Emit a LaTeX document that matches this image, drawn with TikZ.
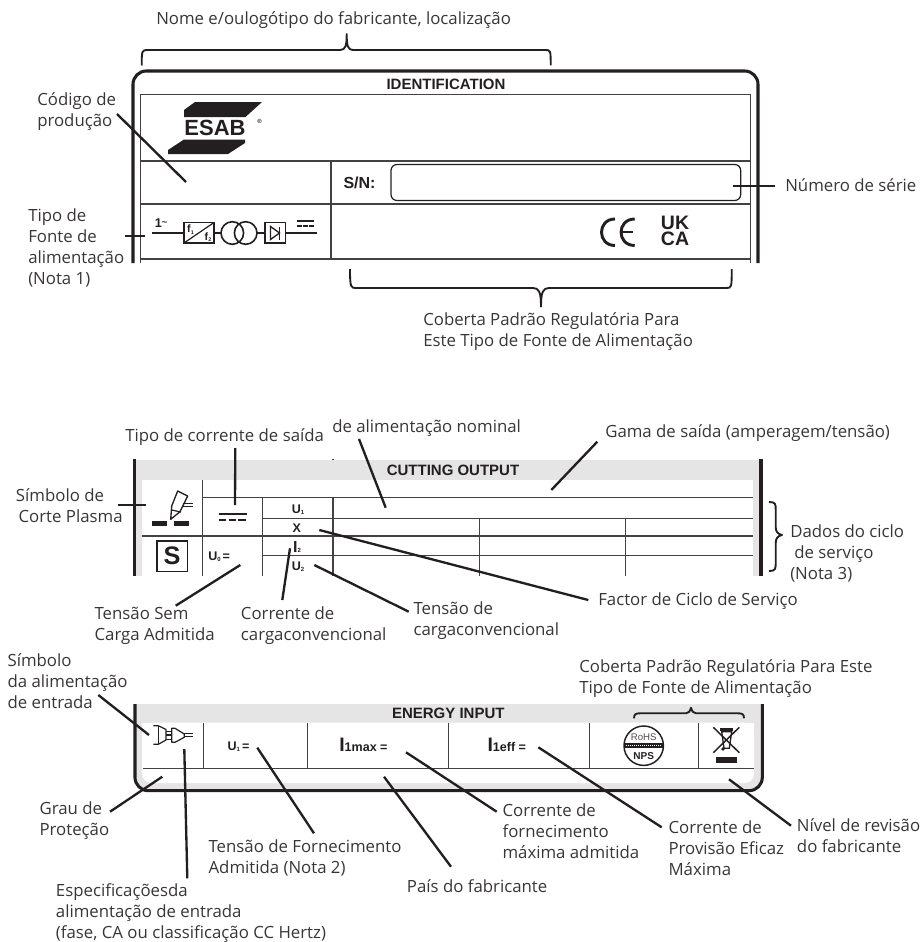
\documentclass[tikz,border=0pt]{standalone}
\usepackage{fontspec}
\setmainfont{Open Sans}
\newfontfamily\arl{Liberation Sans}
\newcommand\ml[1]{\begin{tabular}[t]{@{}l@{}}#1\end{tabular}}
\newcommand\lfont{\fontsize{12.6pt}{15.75pt}\selectfont}
\newcommand\bfs[1]{\fontsize{#1pt}{#1pt}\selectfont\arl\bfseries}
\definecolor{bandgray}{HTML}{E5E5E5}
\definecolor{ink}{HTML}{231F20}
\tikzset{
  lbl/.style={anchor=base west,inner sep=0pt,font=\lfont,text=ink!90!white},
  leader/.style={draw=ink,line width=1.75pt},
  curly/.style={draw=ink,line width=1.4pt,line join=round},
  heavy/.style={draw=ink,line width=2.3pt},
  rule/.style={draw=ink!85!white,line width=1pt},
  thin/.style={draw=ink,line width=0.9pt},
  hd/.style={inner sep=0pt,font=\bfs{11.25},text=ink},
  cellt/.style={inner sep=0pt,font=\bfs{9.4},text=ink},
  solidk/.style={fill=ink,draw=none}
}
\begin{document}
\begin{tikzpicture}[x=0.75pt,y=-0.75pt]
\useasboundingbox (0,0) rectangle (922,942);
% ---------- top panel ----------
\draw[heavy,rounded corners=10pt] (133,263)--(133,71)--(758,71)--(758,263);
\draw[rule] (140.5,263)--(140.5,94.5)--(750.7,94.5)--(750.7,263);
\draw[rule] (140.5,161)--(750.7,161);
\draw[rule] (140.5,204)--(750.7,204);
\draw[rule] (140.5,259)--(750.7,259);
\draw[rule] (331,161)--(331,259);
\draw[thin,rounded corners=4.5pt] (391,164.5) rectangle (740.7,200.5);
\node[hd] (idt) at (446,84) {IDENTIFICATION};
\node[inner sep=0pt,font=\bfs{12},text=ink] (sn) at (359.5,183) {S/N:};
% logo
\fill[ink] (195,102)--(262,102)--(245.5,117)--(184,117)--(184,110)--cycle;
\fill[ink] (184,139.5)--(245,139.5)--(245,143)--(228,154)--(168,154)--(168,150)--cycle;
\node[inner sep=0pt,font=\bfs{16.5},text=ink] (esab) at (215,128) {ESAB};
\node[inner sep=0pt,font=\bfs{4.5},text=ink] (reg) at (259.5,121.5) {®};
% block symbol
\draw[draw=ink,line width=1.1pt] (152,233)--(184,233);
\draw[draw=ink,line width=1.1pt] (214,233)--(221,233);
\draw[draw=ink,line width=1.1pt] (257,233)--(265,233);
\draw[draw=ink,line width=1.1pt] (285.5,233)--(317,233);
\draw[draw=ink,line width=1.2pt] (184,222.5) rectangle (214,243);
\draw[draw=ink,line width=0.9pt] (184,243)--(214,222.5);
\draw[draw=ink,line width=1.2pt] (232.3,233) circle (11.3);
\draw[draw=ink,line width=1.2pt] (245.7,233) circle (11.3);
\draw[draw=ink,line width=1.2pt] (265,222.5) rectangle (285.5,243);
\draw[draw=ink,line width=1pt] (270.5,226.5)--(279.5,233)--(270.5,239.5)--cycle;
\draw[draw=ink,line width=1.2pt] (279.5,226.5)--(279.5,239.5);
\draw[draw=ink,line width=1.2pt] (297,221)--(314,221);
\draw[draw=ink,line width=1.2pt,dash pattern=on 3.5pt off 1pt] (297,226)--(314,226);
\node[inner sep=0pt,font=\bfs{9.5},text=ink] (ph) at (161,223.5) {1\raisebox{0.4ex}{\fontsize{7}{7}\selectfont\char"7E}};
\node[inner sep=0pt,font=\bfs{8},text=ink] (f1) at (190.5,229.5) {f\raisebox{-0.3ex}{\fontsize{4}{4}\selectfont 1}};
\node[inner sep=0pt,font=\bfs{8},text=ink] (f2) at (208,237) {f\raisebox{-0.3ex}{\fontsize{4}{4}\selectfont 2}};
% CE
\draw[draw=ink,line width=2.2pt] (615,219) .. controls (597,219) and (597,245.5) .. (615,245.5);
\draw[draw=ink,line width=2.2pt] (634.7,219) .. controls (616.5,219) and (616.5,245.5) .. (634.7,245.5);
\draw[draw=ink,line width=2.2pt] (622,232)--(633,232);
\node[inner sep=0pt,anchor=center,font=\fontsize{14.6pt}{12.4pt}\selectfont\arl\bfseries,text=ink,align=center] (ukca) at (675,231) {UK\\CA};
% top labels and braces
\node[lbl] (lNome) at (156,25) {Nome e/oulogótipo do fabricante, localização};
\draw[curly] (141.7,65.5) .. controls (141.7,50) and (142,50) .. (148,50)--(340,50) .. controls (345.5,50) and (346.7,46) .. (346.7,34) .. controls (346.7,46) and (348,50) .. (353,50)--(545,50) .. controls (550.7,50) and (550.7,50) .. (550.7,65.5);
\node[lbl] (lCod) at (37,105) {\ml{Código de\\produção}};
\coordinate (a1) at (117,114); \coordinate (b1) at (186,182);
\draw[leader] (a1)--(b1);
\node[lbl] (lTipo) at (28,221) {\ml{Tipo de\\Fonte de\\alimentação\\(Nota 1)}};
\coordinate (a2) at (125,236); \coordinate (b2) at (145,236);
\draw[leader] (a2)--(b2);
\node[lbl] (lNum) at (785,191.7) {Número de série};
\coordinate (a3) at (775,186); \coordinate (b3) at (732.7,186);
\draw[leader] (a3)--(b3);
\draw[curly] (350,269) .. controls (350,288) and (351,288) .. (356,288)--(533,288) .. controls (539,288) and (541,292) .. (541,306.7) .. controls (541,292) and (543,288) .. (549,288)--(726,288) .. controls (731.7,288) and (731.7,288) .. (731.7,269);
\node[lbl] (lCob) at (423,325) {\ml{Coberta Padrão Regulatória Para\\Este Tipo de Fonte de Alimentação}};
% ---------- middle panel ----------
\fill[bandgray] (134,460) rectangle (761,576);
\fill[white] (142,480) rectangle (753,576);
\draw[heavy] (134.5,459)--(134.5,576);
\draw[heavy] (761,459)--(761,576);
\draw[rule] (333,458.8)--(333,460);
\node[hd] (cut) at (453,470) {CUTTING OUTPUT};
\draw[rule] (202.5,480)--(202.5,576);
\draw[rule] (202.5,497.7)--(753,497.7);
\draw[rule] (262.5,497.7)--(262.5,576);
\draw[rule] (333,497.7)--(333,576);
\draw[rule] (262.5,518.7)--(753,518.7);
\draw[rule] (142,536)--(753,536);
\draw[rule] (262.5,555.7)--(753,555.7);
\draw[rule] (479.3,518.7)--(479.3,576);
\draw[rule] (625.7,518.7)--(625.7,576);
% torch
\draw[draw=ink,line width=1pt,line join=round] (177.7,491)--(187.7,496)--(180,511.7)--(170.7,519.3)--(171.7,506)--cycle;
\draw[draw=ink,line width=0.9pt] (171.5,510)--(181,512);
\draw[draw=ink,line width=1.1pt] (183.3,503.3)--(193.3,503.3);
\draw[draw=ink,line width=1.1pt] (183.3,506.7)--(193.3,506.7);
\fill[ink] (151.7,521) rectangle (166.7,525.7);
\fill[ink] (174.3,521) rectangle (189,525.7);
% S box
\draw[draw=ink,line width=1.2pt] (156.7,540.7) rectangle (187.3,571.3);
\node[inner sep=0pt,font=\bfs{19},text=ink] (sbox) at (172,556) {S};
% DC symbol
\draw[draw=ink,line width=1.3pt] (219,514.3)--(247.3,514.3);
\draw[draw=ink,line width=1.3pt,dash pattern=on 5.6pt off 1.6pt] (219,519.7)--(247.3,519.7);
\newcommand\usub[2]{#1\raisebox{-0.1ex}{\fontsize{4.5}{4.5}\selectfont #2}}
\node[cellt] (u1) at (298,510) {\usub{U}{1}};
\node[cellt] (xx) at (296.7,527.7) {X};
\node[cellt] (i2) at (297,547) {{\fontsize{12}{12}\selectfont I}\usub{}{2}};
\node[cellt] (u2) at (298,567) {\usub{U}{2}};
\node[cellt,anchor=west] (u0) at (208,557) {\usub{U}{0}\,=};
% middle labels
\node[lbl] (lSai) at (125,441.7) {Tipo de corrente de saída};
\coordinate (a4) at (235.3,448); \coordinate (b4) at (235,505);
\draw[leader] (a4)--(b4);
\node[lbl] (lNom) at (332,432.7) {de alimentação nominal};
\coordinate (a5) at (359,439); \coordinate (b5) at (385.7,507.7);
\draw[leader] (a5)--(b5);
\node[lbl] (lGam) at (605,437.3) {Gama de saída (amperagem/tensão)};
\coordinate (a6) at (597.3,441.7); \coordinate (b6) at (551.3,490);
\draw[leader] (a6)--(b6);
\node[lbl] (lSim) at (15.7,501.7) {\ml{Símbolo de\\\hspace*{2pt}Corte Plasma}};
\coordinate (a7) at (117.7,505); \coordinate (b7) at (146,505);
\draw[leader] (a7)--(b7);
\draw[curly] (769,502) .. controls (775.7,502) and (775.7,504) .. (775.7,510)--(775.7,527) .. controls (775.7,532) and (778,534) .. (782,535) .. controls (778,536) and (775.7,538) .. (775.7,543)--(775.7,562) .. controls (775.7,569) and (775.7,571) .. (769,571);
\node[lbl] (lDad) at (790,537.3) {\ml{Dados do ciclo\\\hspace*{3pt}de serviço\\(Nota 3)}};
\node[lbl] (lFac) at (598,605.7) {Factor de Ciclo de Serviço};
\coordinate (a8) at (319.3,530); \coordinate (b8) at (588.3,600);
\draw[leader] (a8)--(b8);
\node[lbl] (lSem) at (94.3,619) {\ml{Tensão Sem\\Carga Admitida}};
\coordinate (a9) at (240.3,565); \coordinate (b9) at (175.7,605.7);
\draw[leader] (a9)--(b9);
\node[lbl] (lCor) at (240.7,619) {\ml{Corrente de\\cargaconvencional}};
\coordinate (a10) at (290,548.3); \coordinate (b10) at (282.3,600);
\draw[leader] (a10)--(b10);
\node[lbl] (lTen) at (413.3,614) {\ml{Tensão de\\cargaconvencional}};
\coordinate (a11) at (314.3,565); \coordinate (b11) at (408.7,611.7);
\draw[leader] (a11)--(b11);
% ---------- bottom panel ----------
\fill[bandgray,rounded corners=10pt] (135,690)--(135,790.7)--(762.3,790.7)--(762.3,690)--cycle;
\fill[white] (130,680) rectangle (770,704);
\fill[white,rounded corners=7pt] (142,722.7)--(142,783)--(754,783)--(754,722.7)--cycle;
\fill[white] (142,722.7) rectangle (754,735);
\draw[heavy,rounded corners=10pt] (135,704)--(135,790.7)--(762.3,790.7)--(762.3,704);
\node[hd] (eng) at (448.3,713.3) {ENERGY INPUT};
\draw[rule] (142.7,768.3)--(754,768.3);
\draw[rule] (203.3,722.7)--(203.3,768.3);
\draw[rule] (307.3,722.7)--(307.3,768.3);
\draw[rule] (448.3,722.7)--(448.3,768.3);
\draw[rule] (589.3,722.7)--(589.3,768.3);
\draw[rule] (698.3,722.7)--(698.3,768.3);
% plug
\draw[draw=ink,line width=0.9pt,line join=round] (153.3,725.7)--(158.3,725.7)--(166,729.5)--(166,740)--(158.3,744.3)--(153.3,744.3);
\draw[draw=ink,line width=0.9pt] (158.3,725.7)--(158.3,744.3);
\draw[draw=ink,line width=0.9pt] (166,731.7)--(171.7,731.7);
\draw[draw=ink,line width=0.9pt] (166,735)--(171.7,735);
\draw[draw=ink,line width=0.9pt] (166,739.3)--(171.7,739.3);
\draw[draw=ink,line width=0.9pt,line join=round] (171.7,728.3)--(175,728.3)--(184.3,734)--(184.3,737.3)--(175,742.3)--(171.7,742.3)--cycle;
\draw[draw=ink,line width=1pt] (184.3,733.3)--(193.3,733.3);
\draw[draw=ink,line width=1pt] (184.3,736.7)--(193.3,736.7);
\node[cellt] (u1b) at (238.5,747) {\usub{U}{1}\,=};
\node[inner sep=0pt,font=\bfs{9.4},text=ink,anchor=base west] (imax) at (339,751.7) {{\fontsize{14.6}{14.6}\selectfont I}1max =};
\node[inner sep=0pt,font=\bfs{9.4},text=ink,anchor=base west] (ieff) at (487.3,751.7) {{\fontsize{14.6}{14.6}\selectfont I}1eff =};
% RoHS seal
\draw[draw=ink,line width=1.1pt] (643.7,745.7) circle (19.7);
\fill[ink] (623.8,742.7) rectangle (663.6,748.3);
\draw[draw=white,line width=0.4pt,dash pattern=on 1pt off 0.5pt] (626,745.5)--(661,745.5);
\node[inner sep=0pt,font=\fontsize{7.2pt}{7.2pt}\selectfont\arl,text=ink!80!white] (rohs) at (643.7,737.3) {RoHS};
\node[inner sep=0pt,font=\bfs{7.5},text=ink] (nps) at (643.7,756) {NPS};
% WEEE bin
\draw[draw=ink,line width=1.1pt] (713.3,727.3)--(739.3,752.7);
\draw[draw=ink,line width=1.1pt] (739.3,727.3)--(713.3,752.7);
\draw[draw=ink,line width=1.8pt] (720,729.5)--(733.3,729.5);
\draw[draw=ink,line width=1pt] (721.7,731.7)--(731.7,731.7)--(729.3,748.3)--(724,748.3)--cycle;
\fill[ink] (723,749) circle (1.8);
\fill[ink] (715.7,757.3) rectangle (737.3,763.3);
% small brace
\draw[curly] (634,718.3) .. controls (634,714) and (636,713.3) .. (640,713.3)--(686,713.3) .. controls (689,713.3) and (690,711) .. (691,707.7) .. controls (692,711) and (693,713.3) .. (696,713.3)--(738,713.3) .. controls (742,713.3) and (744,714) .. (744,718.3);
% bottom labels
\node[lbl] (lEnt) at (7.3,666.7) {\ml{Símbolo\\da alimentação\\de entrada}};
\coordinate (a12) at (98.3,695); \coordinate (b12) at (149,735);
\draw[leader] (a12)--(b12);
\node[lbl] (lGra) at (39.3,814) {\ml{Grau de\\Proteção}};
\coordinate (a13) at (110,811.7); \coordinate (b13) at (162.3,776.7);
\draw[leader] (a13)--(b13);
\node[lbl] (lEsp) at (55.7,896.7) {\ml{Especificaçõesda\\alimentação de entrada\\(fase, CA ou classificação CC Hertz)}};
\coordinate (a14) at (184.3,749); \coordinate (b14) at (187.3,878.3);
\draw[leader] (a14)--(b14);
\node[lbl] (lFor) at (208.3,852.7) {\ml{Tensão de Fornecimento\\Admitida (Nota 2)}};
\coordinate (a15) at (257.3,747.7); \coordinate (b15) at (314,833.3);
\draw[leader] (a15)--(b15);
\node[lbl] (lPai) at (406.7,892.3) {País do fabricante};
\coordinate (a16) at (384,776.7); \coordinate (b16) at (451,866.7);
\draw[leader] (a16)--(b16);
\node[lbl] (lMax) at (502.3,816.7) {\ml{Corrente de\\fornecimento\\máxima admitida}};
\coordinate (a17) at (406,752.3); \coordinate (b17) at (496.7,811.7);
\draw[leader] (a17)--(b17);
\node[lbl] (lEfi) at (668.3,833.3) {\ml{Corrente de\\Provisão Eficaz\\Máxima}};
\coordinate (a18) at (538.3,747.3); \coordinate (b18) at (661.7,827.3);
\draw[leader] (a18)--(b18);
\node[lbl] (lNiv) at (796.7,831.7) {\ml{Nível de revisão\\do fabricante}};
\coordinate (a19) at (729,779.3); \coordinate (b19) at (791,825.7);
\draw[leader] (a19)--(b19);
\node[lbl] (lCo2) at (579,672.3) {\ml{Coberta Padrão Regulatória Para Este\\Tipo de Fonte de Alimentação}};
\end{tikzpicture}
\end{document}
